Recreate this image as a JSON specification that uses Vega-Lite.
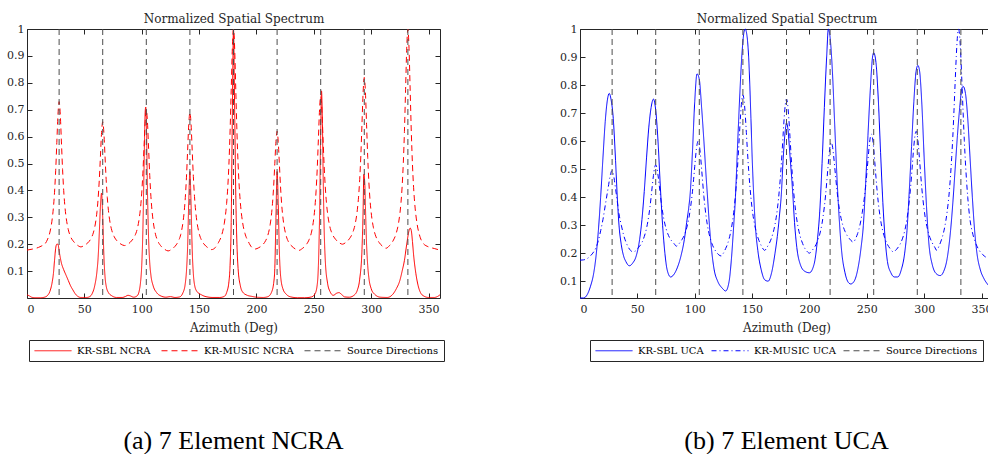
{
  "$schema": "https://vega.github.io/schema/vega-lite/v6.json",
  "background": "white",
  "padding": {"left": 6, "top": 12, "right": 0, "bottom": 0},
  "spacing": 114,
  "config": {
    "view": {"stroke": null},
    "font": "DejaVu Serif",
    "axis": {"domainColor": "#262626", "tickColor": "#262626", "labelColor": "#262626", "titleColor": "#262626", "labelFont": "DejaVu Serif", "titleFont": "DejaVu Serif", "labelFontSize": 11, "titleFontSize": 12, "titleFontWeight": "normal", "grid": false, "tickSize": -5, "domainWidth": 1, "tickWidth": 1},
    "legend": {"direction": "horizontal", "columns": 3, "symbolType": "M-1,0L6.4,0", "symbolSize": 100, "symbolStrokeWidth": 1, "labelFont": "DejaVu Serif", "labelFontSize": 10, "labelColor": "black", "labelOffset": 32, "columnPadding": 8, "padding": 5, "strokeColor": "#262626", "fillColor": "white", "labelLimit": 0}
  },
  "resolve": {"scale": {"color": "independent", "strokeDash": "independent", "x": "independent", "y": "independent"}},
  "datasets": {
    "dirs": [{"d": 28}, {"d": 66}, {"d": 104}, {"d": 142}, {"d": 180}, {"d": 218}, {"d": 256}, {"d": 294}, {"d": 332}],
    "sbl_ncra": [
      {"a":0,"v":0.012},{"a":2,"v":0.008},{"a":4,"v":0.003},{"a":7,"v":0.001},{"a":12,"v":0.001},{"a":16,"v":0.004},{"a":18,"v":0.01},{"a":20,"v":0.025},{"a":22,"v":0.06},{"a":23,"v":0.09},{"a":24,"v":0.14},{"a":25,"v":0.185},{"a":26,"v":0.2},{"a":27,"v":0.2},{"a":28,"v":0.175},{"a":29,"v":0.15},{"a":30,"v":0.13},{"a":32,"v":0.105},{"a":34,"v":0.085},{"a":36,"v":0.065},{"a":38,"v":0.045},{"a":40,"v":0.03},{"a":42,"v":0.016},{"a":44,"v":0.007},{"a":47,"v":0.002},{"a":52,"v":0.002},{"a":55,"v":0.006},{"a":57,"v":0.018},{"a":59,"v":0.045},{"a":61,"v":0.1},{"a":62,"v":0.15},{"a":63,"v":0.24},{"a":64,"v":0.34},{"a":65,"v":0.39},{"a":66,"v":0.3},{"a":67,"v":0.16},{"a":68,"v":0.08},{"a":69,"v":0.045},{"a":71,"v":0.02},{"a":74,"v":0.008},{"a":78,"v":0.002},{"a":83,"v":0.002},{"a":86,"v":0.006},{"a":88,"v":0.01},{"a":90,"v":0.008},{"a":93,"v":0.003},{"a":96,"v":0.008},{"a":98,"v":0.03},{"a":99,"v":0.06},{"a":100,"v":0.12},{"a":101,"v":0.25},{"a":102,"v":0.48},{"a":103,"v":0.69},{"a":103.5,"v":0.71},{"a":104,"v":0.66},{"a":105,"v":0.4},{"a":106,"v":0.22},{"a":107,"v":0.13},{"a":108,"v":0.085},{"a":110,"v":0.045},{"a":113,"v":0.02},{"a":117,"v":0.007},{"a":121,"v":0.003},{"a":125,"v":0.005},{"a":129,"v":0.002},{"a":133,"v":0.004},{"a":136,"v":0.02},{"a":138,"v":0.055},{"a":139,"v":0.1},{"a":140,"v":0.19},{"a":141,"v":0.36},{"a":142,"v":0.47},{"a":143,"v":0.35},{"a":144,"v":0.18},{"a":145,"v":0.09},{"a":146,"v":0.05},{"a":148,"v":0.025},{"a":152,"v":0.012},{"a":156,"v":0.005},{"a":162,"v":0.002},{"a":168,"v":0.002},{"a":172,"v":0.006},{"a":174,"v":0.02},{"a":176,"v":0.06},{"a":177,"v":0.12},{"a":178,"v":0.28},{"a":179,"v":0.68},{"a":180,"v":1.0},{"a":181,"v":0.7},{"a":182,"v":0.38},{"a":183,"v":0.2},{"a":184,"v":0.11},{"a":186,"v":0.045},{"a":188,"v":0.022},{"a":192,"v":0.01},{"a":196,"v":0.006},{"a":200,"v":0.003},{"a":206,"v":0.002},{"a":210,"v":0.005},{"a":213,"v":0.02},{"a":215,"v":0.055},{"a":216,"v":0.11},{"a":217,"v":0.3},{"a":218,"v":0.47},{"a":219,"v":0.35},{"a":220,"v":0.17},{"a":221,"v":0.085},{"a":223,"v":0.035},{"a":226,"v":0.014},{"a":230,"v":0.004},{"a":236,"v":0.001},{"a":242,"v":0.001},{"a":248,"v":0.004},{"a":251,"v":0.015},{"a":253,"v":0.05},{"a":254,"v":0.12},{"a":255,"v":0.3},{"a":256,"v":0.62},{"a":256.7,"v":0.77},{"a":257.5,"v":0.65},{"a":258,"v":0.5},{"a":259,"v":0.26},{"a":260,"v":0.14},{"a":262,"v":0.055},{"a":264,"v":0.025},{"a":267,"v":0.01},{"a":270,"v":0.018},{"a":272,"v":0.02},{"a":274,"v":0.014},{"a":277,"v":0.004},{"a":281,"v":0.003},{"a":285,"v":0.01},{"a":288,"v":0.03},{"a":290,"v":0.07},{"a":292,"v":0.18},{"a":293,"v":0.33},{"a":293.6,"v":0.46},{"a":294.5,"v":0.42},{"a":295,"v":0.34},{"a":296,"v":0.2},{"a":297,"v":0.12},{"a":298,"v":0.075},{"a":300,"v":0.035},{"a":303,"v":0.014},{"a":308,"v":0.003},{"a":314,"v":0.002},{"a":318,"v":0.01},{"a":322,"v":0.035},{"a":325,"v":0.065},{"a":327,"v":0.1},{"a":329,"v":0.14},{"a":331,"v":0.2},{"a":333,"v":0.25},{"a":334,"v":0.26},{"a":335,"v":0.25},{"a":336,"v":0.21},{"a":337,"v":0.16},{"a":339,"v":0.09},{"a":341,"v":0.045},{"a":343,"v":0.02},{"a":346,"v":0.007},{"a":350,"v":0.002},{"a":355,"v":0.002},{"a":358,"v":0.006},{"a":360,"v":0.012}
    ],
    "music_ncra": [
      {"a":0,"v":0.178},{"a":5,"v":0.182},{"a":10,"v":0.188},{"a":13,"v":0.194},{"a":15,"v":0.198},{"a":18,"v":0.219},{"a":20,"v":0.245},{"a":22,"v":0.295},{"a":23,"v":0.335},{"a":24,"v":0.393},{"a":25,"v":0.473},{"a":26,"v":0.578},{"a":27,"v":0.682},{"a":28,"v":0.73},{"a":29,"v":0.683},{"a":30,"v":0.58},{"a":31,"v":0.478},{"a":32,"v":0.399},{"a":33,"v":0.342},{"a":34,"v":0.303},{"a":36,"v":0.254},{"a":38,"v":0.228},{"a":41,"v":0.208},{"a":44,"v":0.196},{"a":47,"v":0.19},{"a":50,"v":0.196},{"a":53,"v":0.205},{"a":56,"v":0.223},{"a":58,"v":0.245},{"a":60,"v":0.287},{"a":61,"v":0.321},{"a":62,"v":0.37},{"a":63,"v":0.438},{"a":64,"v":0.526},{"a":65,"v":0.615},{"a":66,"v":0.655},{"a":67,"v":0.615},{"a":68,"v":0.528},{"a":69,"v":0.44},{"a":70,"v":0.373},{"a":71,"v":0.325},{"a":72,"v":0.291},{"a":74,"v":0.25},{"a":76,"v":0.228},{"a":79,"v":0.21},{"a":82,"v":0.2},{"a":85,"v":0.195},{"a":88,"v":0.2},{"a":91,"v":0.212},{"a":94,"v":0.231},{"a":96,"v":0.255},{"a":98,"v":0.301},{"a":99,"v":0.337},{"a":100,"v":0.39},{"a":101,"v":0.464},{"a":102,"v":0.56},{"a":103,"v":0.656},{"a":104,"v":0.7},{"a":105,"v":0.654},{"a":106,"v":0.555},{"a":107,"v":0.455},{"a":108,"v":0.378},{"a":109,"v":0.323},{"a":110,"v":0.285},{"a":112,"v":0.237},{"a":114,"v":0.212},{"a":117,"v":0.192},{"a":120,"v":0.181},{"a":123,"v":0.175},{"a":126,"v":0.181},{"a":129,"v":0.192},{"a":132,"v":0.212},{"a":134,"v":0.236},{"a":136,"v":0.283},{"a":137,"v":0.32},{"a":138,"v":0.374},{"a":139,"v":0.449},{"a":140,"v":0.547},{"a":141,"v":0.645},{"a":142,"v":0.69},{"a":143,"v":0.646},{"a":144,"v":0.549},{"a":145,"v":0.452},{"a":146,"v":0.377},{"a":147,"v":0.324},{"a":148,"v":0.287},{"a":150,"v":0.241},{"a":152,"v":0.216},{"a":155,"v":0.197},{"a":158,"v":0.186},{"a":161,"v":0.18},{"a":164,"v":0.187},{"a":167,"v":0.207},{"a":170,"v":0.238},{"a":172,"v":0.278},{"a":174,"v":0.351},{"a":175,"v":0.411},{"a":176,"v":0.497},{"a":177,"v":0.617},{"a":178,"v":0.773},{"a":179,"v":0.929},{"a":180,"v":1.0},{"a":181,"v":0.929},{"a":182,"v":0.773},{"a":183,"v":0.618},{"a":184,"v":0.499},{"a":185,"v":0.413},{"a":186,"v":0.353},{"a":188,"v":0.279},{"a":190,"v":0.24},{"a":193,"v":0.209},{"a":196,"v":0.188},{"a":199,"v":0.182},{"a":202,"v":0.187},{"a":205,"v":0.196},{"a":208,"v":0.213},{"a":210,"v":0.234},{"a":212,"v":0.274},{"a":213,"v":0.306},{"a":214,"v":0.352},{"a":215,"v":0.415},{"a":216,"v":0.499},{"a":217,"v":0.582},{"a":218,"v":0.62},{"a":219,"v":0.581},{"a":220,"v":0.497},{"a":221,"v":0.413},{"a":222,"v":0.348},{"a":223,"v":0.302},{"a":224,"v":0.27},{"a":226,"v":0.23},{"a":228,"v":0.208},{"a":231,"v":0.192},{"a":234,"v":0.182},{"a":237,"v":0.177},{"a":240,"v":0.184},{"a":243,"v":0.196},{"a":246,"v":0.218},{"a":248,"v":0.245},{"a":250,"v":0.297},{"a":251,"v":0.339},{"a":252,"v":0.399},{"a":253,"v":0.482},{"a":254,"v":0.591},{"a":255,"v":0.7},{"a":256,"v":0.75},{"a":257,"v":0.702},{"a":258,"v":0.598},{"a":259,"v":0.493},{"a":260,"v":0.413},{"a":261,"v":0.355},{"a":262,"v":0.315},{"a":264,"v":0.265},{"a":266,"v":0.239},{"a":269,"v":0.218},{"a":272,"v":0.206},{"a":275,"v":0.2},{"a":278,"v":0.207},{"a":281,"v":0.22},{"a":284,"v":0.244},{"a":286,"v":0.274},{"a":288,"v":0.33},{"a":289,"v":0.375},{"a":290,"v":0.44},{"a":291,"v":0.53},{"a":292,"v":0.648},{"a":293,"v":0.766},{"a":294,"v":0.82},{"a":295,"v":0.765},{"a":296,"v":0.644},{"a":297,"v":0.523},{"a":298,"v":0.431},{"a":299,"v":0.364},{"a":300,"v":0.318},{"a":302,"v":0.261},{"a":304,"v":0.23},{"a":307,"v":0.206},{"a":310,"v":0.192},{"a":313,"v":0.185},{"a":316,"v":0.195},{"a":319,"v":0.212},{"a":322,"v":0.243},{"a":324,"v":0.282},{"a":326,"v":0.355},{"a":327,"v":0.415},{"a":328,"v":0.5},{"a":329,"v":0.619},{"a":330,"v":0.774},{"a":331,"v":0.929},{"a":332,"v":1.0},{"a":333,"v":0.928},{"a":334,"v":0.772},{"a":335,"v":0.616},{"a":336,"v":0.496},{"a":337,"v":0.41},{"a":338,"v":0.35},{"a":340,"v":0.276},{"a":342,"v":0.236},{"a":345,"v":0.205},{"a":350,"v":0.19},{"a":355,"v":0.184},{"a":360,"v":0.178}
    ],
    "sbl_uca": [
      {"a":0,"v":0.04},{"a":3,"v":0.04},{"a":6,"v":0.05},{"a":9,"v":0.08},{"a":12,"v":0.13},{"a":14,"v":0.19},{"a":16,"v":0.28},{"a":18,"v":0.4},{"a":20,"v":0.54},{"a":22,"v":0.67},{"a":24,"v":0.75},{"a":25.5,"v":0.77},{"a":27,"v":0.75},{"a":29,"v":0.68},{"a":31,"v":0.53},{"a":32.5,"v":0.4},{"a":34,"v":0.3},{"a":36,"v":0.23},{"a":38,"v":0.19},{"a":40,"v":0.17},{"a":43,"v":0.155},{"a":46,"v":0.165},{"a":49,"v":0.19},{"a":52,"v":0.25},{"a":54,"v":0.32},{"a":56,"v":0.42},{"a":58,"v":0.54},{"a":60,"v":0.65},{"a":62,"v":0.72},{"a":64,"v":0.75},{"a":66,"v":0.71},{"a":68,"v":0.6},{"a":70,"v":0.44},{"a":72,"v":0.3},{"a":74,"v":0.2},{"a":76,"v":0.14},{"a":79,"v":0.115},{"a":82,"v":0.125},{"a":85,"v":0.15},{"a":88,"v":0.19},{"a":91,"v":0.25},{"a":93,"v":0.31},{"a":95,"v":0.37},{"a":96,"v":0.41},{"a":98,"v":0.56},{"a":100,"v":0.74},{"a":102,"v":0.84},{"a":104,"v":0.82},{"a":106,"v":0.72},{"a":108,"v":0.6},{"a":110,"v":0.47},{"a":111,"v":0.41},{"a":113,"v":0.29},{"a":115,"v":0.2},{"a":117,"v":0.14},{"a":120,"v":0.1},{"a":124,"v":0.075},{"a":127,"v":0.065},{"a":130,"v":0.1},{"a":132,"v":0.18},{"a":134,"v":0.3},{"a":135.5,"v":0.4},{"a":137,"v":0.55},{"a":139,"v":0.74},{"a":141,"v":0.9},{"a":143,"v":0.99},{"a":144,"v":1.0},{"a":145,"v":0.99},{"a":147,"v":0.9},{"a":149,"v":0.68},{"a":150,"v":0.55},{"a":151.5,"v":0.4},{"a":153,"v":0.29},{"a":155,"v":0.21},{"a":158,"v":0.14},{"a":161,"v":0.105},{"a":164,"v":0.1},{"a":167,"v":0.13},{"a":170,"v":0.2},{"a":172,"v":0.26},{"a":174,"v":0.34},{"a":175.5,"v":0.41},{"a":177,"v":0.53},{"a":179,"v":0.64},{"a":180,"v":0.665},{"a":181,"v":0.65},{"a":183,"v":0.55},{"a":185.5,"v":0.41},{"a":187,"v":0.31},{"a":189,"v":0.22},{"a":192,"v":0.16},{"a":196,"v":0.135},{"a":200,"v":0.13},{"a":204,"v":0.16},{"a":207,"v":0.25},{"a":209,"v":0.35},{"a":211,"v":0.52},{"a":213,"v":0.72},{"a":215,"v":0.9},{"a":216.5,"v":1.0},{"a":218,"v":0.97},{"a":220,"v":0.85},{"a":222,"v":0.66},{"a":224,"v":0.47},{"a":226,"v":0.32},{"a":228,"v":0.21},{"a":231,"v":0.13},{"a":234,"v":0.095},{"a":236,"v":0.09},{"a":239,"v":0.1},{"a":242,"v":0.14},{"a":245,"v":0.22},{"a":247,"v":0.3},{"a":249,"v":0.45},{"a":251,"v":0.62},{"a":253,"v":0.78},{"a":255,"v":0.9},{"a":256,"v":0.915},{"a":258,"v":0.88},{"a":260,"v":0.75},{"a":262,"v":0.56},{"a":264,"v":0.38},{"a":266,"v":0.25},{"a":268,"v":0.17},{"a":271,"v":0.13},{"a":274,"v":0.115},{"a":277,"v":0.115},{"a":280,"v":0.14},{"a":283,"v":0.2},{"a":285,"v":0.28},{"a":287,"v":0.42},{"a":289,"v":0.58},{"a":291,"v":0.74},{"a":293,"v":0.85},{"a":294.5,"v":0.87},{"a":296,"v":0.85},{"a":298,"v":0.73},{"a":300,"v":0.54},{"a":302,"v":0.37},{"a":304,"v":0.24},{"a":307,"v":0.16},{"a":311,"v":0.125},{"a":314,"v":0.12},{"a":317,"v":0.135},{"a":320,"v":0.18},{"a":323,"v":0.28},{"a":325,"v":0.38},{"a":327,"v":0.5},{"a":329,"v":0.62},{"a":331,"v":0.72},{"a":333,"v":0.79},{"a":334,"v":0.795},{"a":336,"v":0.77},{"a":338,"v":0.68},{"a":340,"v":0.54},{"a":342,"v":0.4},{"a":344,"v":0.28},{"a":346,"v":0.2},{"a":349,"v":0.14},{"a":352,"v":0.11},{"a":356,"v":0.085},{"a":360,"v":0.065}
    ],
    "music_uca": [
      {"a":0,"v":0.175},{"a":3,"v":0.176},{"a":6,"v":0.18},{"a":9,"v":0.19},{"a":12,"v":0.205},{"a":14,"v":0.22},{"a":16,"v":0.245},{"a":18,"v":0.28},{"a":20,"v":0.32},{"a":22,"v":0.37},{"a":24,"v":0.42},{"a":25,"v":0.445},{"a":26,"v":0.47},{"a":27,"v":0.488},{"a":28,"v":0.495},{"a":29,"v":0.485},{"a":30,"v":0.46},{"a":31,"v":0.43},{"a":32,"v":0.4},{"a":34,"v":0.34},{"a":36,"v":0.3},{"a":38,"v":0.265},{"a":40,"v":0.24},{"a":42,"v":0.222},{"a":44,"v":0.21},{"a":46,"v":0.205},{"a":48,"v":0.207},{"a":50,"v":0.215},{"a":52,"v":0.225},{"a":54,"v":0.238},{"a":56,"v":0.259},{"a":58,"v":0.289},{"a":60,"v":0.335},{"a":61,"v":0.365},{"a":62,"v":0.401},{"a":63,"v":0.44},{"a":64,"v":0.477},{"a":65,"v":0.504},{"a":66,"v":0.515},{"a":67,"v":0.505},{"a":68,"v":0.479},{"a":69,"v":0.445},{"a":70,"v":0.409},{"a":71,"v":0.375},{"a":72,"v":0.347},{"a":74,"v":0.304},{"a":76,"v":0.275},{"a":78,"v":0.256},{"a":80,"v":0.243},{"a":82,"v":0.234},{"a":84,"v":0.225},{"a":86,"v":0.232},{"a":88,"v":0.243},{"a":89,"v":0.249},{"a":91,"v":0.265},{"a":93,"v":0.29},{"a":95,"v":0.327},{"a":97,"v":0.383},{"a":98,"v":0.419},{"a":99,"v":0.462},{"a":100,"v":0.509},{"a":101,"v":0.554},{"a":102,"v":0.587},{"a":103,"v":0.6},{"a":104,"v":0.586},{"a":105,"v":0.55},{"a":106,"v":0.501},{"a":107,"v":0.45},{"a":108,"v":0.402},{"a":109,"v":0.362},{"a":111,"v":0.301},{"a":113,"v":0.261},{"a":115,"v":0.234},{"a":117,"v":0.216},{"a":119,"v":0.203},{"a":121,"v":0.194},{"a":123,"v":0.19},{"a":125,"v":0.2},{"a":127,"v":0.217},{"a":128,"v":0.226},{"a":130,"v":0.252},{"a":132,"v":0.289},{"a":134,"v":0.346},{"a":136,"v":0.432},{"a":137,"v":0.487},{"a":138,"v":0.554},{"a":139,"v":0.626},{"a":140,"v":0.694},{"a":141,"v":0.745},{"a":142,"v":0.765},{"a":143,"v":0.746},{"a":144,"v":0.697},{"a":145,"v":0.631},{"a":146,"v":0.561},{"a":147,"v":0.497},{"a":148,"v":0.443},{"a":150,"v":0.36},{"a":152,"v":0.306},{"a":154,"v":0.27},{"a":156,"v":0.245},{"a":158,"v":0.227},{"a":161,"v":0.21},{"a":163,"v":0.221},{"a":165,"v":0.235},{"a":166,"v":0.244},{"a":168,"v":0.268},{"a":170,"v":0.303},{"a":172,"v":0.356},{"a":174,"v":0.437},{"a":175,"v":0.489},{"a":176,"v":0.552},{"a":177,"v":0.619},{"a":178,"v":0.684},{"a":179,"v":0.732},{"a":180,"v":0.75},{"a":181,"v":0.731},{"a":182,"v":0.682},{"a":183,"v":0.617},{"a":184,"v":0.548},{"a":185,"v":0.484},{"a":186,"v":0.431},{"a":188,"v":0.349},{"a":190,"v":0.295},{"a":192,"v":0.259},{"a":194,"v":0.235},{"a":196,"v":0.217},{"a":198,"v":0.206},{"a":200,"v":0.2},{"a":202,"v":0.208},{"a":204,"v":0.219},{"a":205,"v":0.225},{"a":207,"v":0.243},{"a":209,"v":0.268},{"a":211,"v":0.307},{"a":213,"v":0.366},{"a":214,"v":0.404},{"a":215,"v":0.45},{"a":216,"v":0.499},{"a":217,"v":0.546},{"a":218,"v":0.582},{"a":219,"v":0.595},{"a":220,"v":0.583},{"a":221,"v":0.551},{"a":222,"v":0.509},{"a":223,"v":0.465},{"a":224,"v":0.424},{"a":225,"v":0.389},{"a":227,"v":0.336},{"a":229,"v":0.301},{"a":231,"v":0.278},{"a":233,"v":0.262},{"a":235,"v":0.251},{"a":238,"v":0.24},{"a":239,"v":0.242},{"a":240,"v":0.25},{"a":242,"v":0.27},{"a":244,"v":0.3},{"a":246,"v":0.344},{"a":248,"v":0.402},{"a":249,"v":0.439},{"a":250,"v":0.484},{"a":251,"v":0.532},{"a":252,"v":0.578},{"a":253,"v":0.612},{"a":254,"v":0.625},{"a":255,"v":0.611},{"a":256,"v":0.573},{"a":257,"v":0.523},{"a":258,"v":0.471},{"a":259,"v":0.422},{"a":260,"v":0.381},{"a":262,"v":0.319},{"a":264,"v":0.278},{"a":266,"v":0.25},{"a":268,"v":0.231},{"a":270,"v":0.218},{"a":273,"v":0.205},{"a":276,"v":0.214},{"a":278,"v":0.225},{"a":279,"v":0.232},{"a":281,"v":0.251},{"a":283,"v":0.279},{"a":285,"v":0.322},{"a":287,"v":0.386},{"a":288,"v":0.427},{"a":289,"v":0.477},{"a":290,"v":0.531},{"a":291,"v":0.582},{"a":292,"v":0.62},{"a":293,"v":0.635},{"a":294,"v":0.621},{"a":295,"v":0.583},{"a":296,"v":0.532},{"a":297,"v":0.479},{"a":298,"v":0.43},{"a":299,"v":0.389},{"a":301,"v":0.325},{"a":303,"v":0.284},{"a":305,"v":0.256},{"a":307,"v":0.237},{"a":309,"v":0.223},{"a":311,"v":0.21},{"a":313,"v":0.226},{"a":315,"v":0.247},{"a":316,"v":0.26},{"a":318,"v":0.295},{"a":320,"v":0.347},{"a":322,"v":0.424},{"a":324,"v":0.542},{"a":325,"v":0.618},{"a":326,"v":0.71},{"a":327,"v":0.809},{"a":328,"v":0.903},{"a":329,"v":0.973},{"a":330,"v":1.0},{"a":331,"v":0.972},{"a":332,"v":0.899},{"a":333,"v":0.8},{"a":334,"v":0.697},{"a":335,"v":0.602},{"a":336,"v":0.522},{"a":338,"v":0.399},{"a":340,"v":0.318},{"a":342,"v":0.275},{"a":344,"v":0.245},{"a":346,"v":0.225},{"a":348,"v":0.21},{"a":351,"v":0.195},{"a":354,"v":0.185},{"a":357,"v":0.178},{"a":360,"v":0.175}
    ]
  },
  "hconcat": [
    {
      "width": 413,
      "height": 269,
      "title": {"text": "(a) 7 Element NCRA", "orient": "bottom", "font": "Liberation Serif", "fontSize": 26, "fontWeight": "normal", "color": "black", "offset": 66, "anchor": "middle", "frame": "group"},
      "resolve": {"axis": {"x": "independent", "y": "independent"}},
      "layer": [
        {
          "data": {"name": "sbl_ncra"},
          "mark": {"type": "line", "interpolate": "monotone", "strokeWidth": 1},
          "encoding": {
            "x": {"field": "a", "type": "quantitative", "scale": {"domain": [0, 360], "nice": false, "zero": false}, "axis": {"orient": "bottom", "values": [0, 50, 100, 150, 200, 250, 300, 350], "title": "Azimuth (Deg)", "labelPadding": 10, "titlePadding": 8}},
            "y": {"field": "v", "type": "quantitative", "scale": {"domain": [0, 1], "nice": false, "zero": false}, "axis": {"orient": "left", "values": [0.1, 0.2, 0.3, 0.4, 0.5, 0.6, 0.7, 0.8, 0.9, 1], "format": ".1~f", "title": null, "labelPadding": 8}},
            "color": {"datum": "KR-SBL NCRA", "type": "nominal", "scale": {"domain": ["KR-SBL NCRA", "KR-MUSIC NCRA", "Source Directions"], "range": ["#ff0000", "#ff0000", "#4d4d4d"]}, "legend": {"orient": "none", "legendX": 2, "legendY": 311, "title": null, "encode": {"symbols": {"update": {"stroke": {"signal": "datum.value === 'Source Directions' ? '#4d4d4d' : '#ff0000'"}}}}}},
            "strokeDash": {"datum": "KR-SBL NCRA", "type": "nominal", "scale": {"domain": ["KR-SBL NCRA", "KR-MUSIC NCRA", "Source Directions"], "range": [[1, 0], [6, 4], [6, 4]]}, "legend": {"orient": "none", "legendX": 2, "legendY": 311, "title": null, "encode": {"symbols": {"update": {"stroke": {"signal": "datum.value === 'Source Directions' ? '#4d4d4d' : '#ff0000'"}}}}}}
          }
        },
        {
          "data": {"name": "music_ncra"},
          "mark": {"type": "line", "interpolate": "monotone", "strokeWidth": 1},
          "encoding": {
            "x": {"field": "a", "type": "quantitative", "axis": {"orient": "top", "values": [0, 50, 100, 150, 200, 250, 300, 350], "labels": false, "title": "Normalized Spatial Spectrum", "titlePadding": 3}},
            "y": {"field": "v", "type": "quantitative", "axis": {"orient": "right", "values": [0.1, 0.2, 0.3, 0.4, 0.5, 0.6, 0.7, 0.8, 0.9, 1], "labels": false, "title": null}},
            "color": {"datum": "KR-MUSIC NCRA", "type": "nominal"},
            "strokeDash": {"datum": "KR-MUSIC NCRA", "type": "nominal"}
          }
        },
        {
          "data": {"name": "dirs"},
          "mark": {"type": "rule", "strokeWidth": 1},
          "encoding": {
            "x": {"field": "d", "type": "quantitative", "axis": null},
            "color": {"datum": "Source Directions", "type": "nominal"},
            "strokeDash": {"datum": "Source Directions", "type": "nominal"}
          }
        }
      ]
    },
    {
      "width": 413,
      "height": 269,
      "title": {"text": "(b) 7 Element UCA", "orient": "bottom", "font": "Liberation Serif", "fontSize": 26, "fontWeight": "normal", "color": "black", "offset": 66, "anchor": "middle", "frame": "group"},
      "resolve": {"axis": {"x": "independent", "y": "independent"}},
      "layer": [
        {
          "data": {"name": "sbl_uca"},
          "mark": {"type": "line", "interpolate": "monotone", "strokeWidth": 1},
          "encoding": {
            "x": {"field": "a", "type": "quantitative", "scale": {"domain": [0, 360], "nice": false, "zero": false}, "axis": {"orient": "bottom", "values": [0, 50, 100, 150, 200, 250, 300, 350], "title": "Azimuth (Deg)", "labelPadding": 10, "titlePadding": 8}},
            "y": {"field": "v", "type": "quantitative", "scale": {"domain": [0.04, 1], "nice": false, "zero": false}, "axis": {"orient": "left", "values": [0.1, 0.2, 0.3, 0.4, 0.5, 0.6, 0.7, 0.8, 0.9, 1], "format": ".1~f", "title": null, "labelPadding": 8}},
            "color": {"datum": "KR-SBL UCA", "type": "nominal", "scale": {"domain": ["KR-SBL UCA", "KR-MUSIC UCA", "Source Directions"], "range": ["#0000ff", "#0000ff", "#4d4d4d"]}, "legend": {"orient": "none", "legendX": 10, "legendY": 311, "title": null, "columnPadding": 5, "encode": {"symbols": {"update": {"stroke": {"signal": "datum.value === 'Source Directions' ? '#4d4d4d' : '#0000ff'"}}}}}},
            "strokeDash": {"datum": "KR-SBL UCA", "type": "nominal", "scale": {"domain": ["KR-SBL UCA", "KR-MUSIC UCA", "Source Directions"], "range": [[1, 0], [5, 3, 1, 3], [6, 4]]}, "legend": {"orient": "none", "legendX": 10, "legendY": 311, "title": null, "columnPadding": 5, "encode": {"symbols": {"update": {"stroke": {"signal": "datum.value === 'Source Directions' ? '#4d4d4d' : '#0000ff'"}}}}}}
          }
        },
        {
          "data": {"name": "music_uca"},
          "mark": {"type": "line", "interpolate": "monotone", "strokeWidth": 1},
          "encoding": {
            "x": {"field": "a", "type": "quantitative", "axis": {"orient": "top", "values": [0, 50, 100, 150, 200, 250, 300, 350], "labels": false, "title": "Normalized Spatial Spectrum", "titlePadding": 3}},
            "y": {"field": "v", "type": "quantitative", "axis": {"orient": "right", "values": [0.1, 0.2, 0.3, 0.4, 0.5, 0.6, 0.7, 0.8, 0.9, 1], "labels": false, "title": null}},
            "color": {"datum": "KR-MUSIC UCA", "type": "nominal"},
            "strokeDash": {"datum": "KR-MUSIC UCA", "type": "nominal"}
          }
        },
        {
          "data": {"name": "dirs"},
          "mark": {"type": "rule", "strokeWidth": 1},
          "encoding": {
            "x": {"field": "d", "type": "quantitative", "axis": null},
            "color": {"datum": "Source Directions", "type": "nominal"},
            "strokeDash": {"datum": "Source Directions", "type": "nominal"}
          }
        }
      ]
    }
  ]
}
